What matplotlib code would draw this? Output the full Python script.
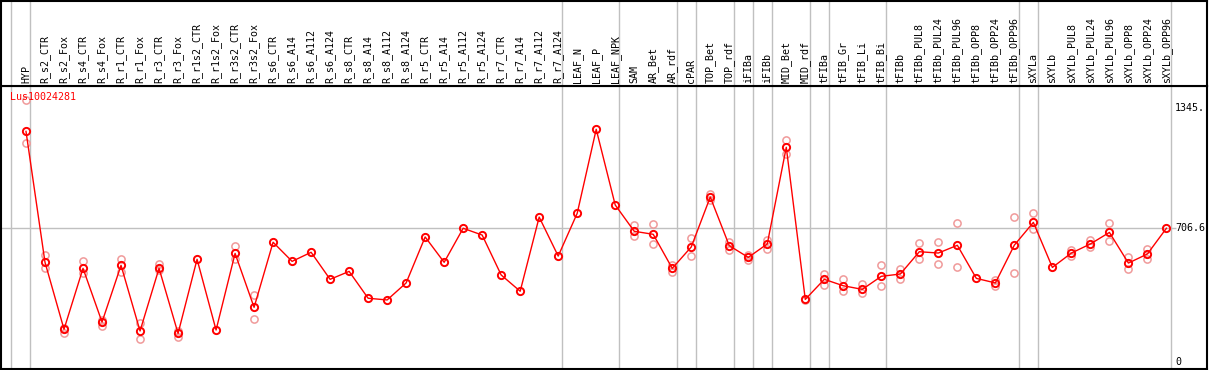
import matplotlib
matplotlib.use('Agg')
import matplotlib.pyplot as plt
import numpy as np

labels = ['HYP', 'R_s2_CTR', 'R_s2_Fox', 'R_s4_CTR', 'R_s4_Fox', 'R_r1_CTR', 'R_r1_Fox',
          'R_r3_CTR', 'R_r3_Fox', 'R_r1s2_CTR', 'R_r1s2_Fox', 'R_r3s2_CTR', 'R_r3s2_Fox',
          'R_s6_CTR', 'R_s6_A14', 'R_s6_A112', 'R_s6_A124', 'R_s8_CTR', 'R_s8_A14',
          'R_s8_A112', 'R_s8_A124', 'R_r5_CTR', 'R_r5_A14', 'R_r5_A112', 'R_r5_A124',
          'R_r7_CTR', 'R_r7_A14', 'R_r7_A112', 'R_r7_A124', 'LEAF_N', 'LEAF_P', 'LEAF_NPK',
          'SAM', 'AR_Bet', 'AR_rdf', 'cPAR', 'TOP_Bet', 'TOP_rdf', 'iFIBa', 'iFIBb',
          'MID_Bet', 'MID_rdf', 'tFIBa', 'tFIB_Gr', 'tFIB_Li', 'tFIB_Bi', 'tFIBb',
          'tFIBb_PUL8', 'tFIBb_PUL24', 'tFIBb_PUL96', 'tFIBb_OPP8', 'tFIBb_OPP24',
          'tFIBb_OPP96', 'sXYLa', 'sXYLb', 'sXYLb_PUL8', 'sXYLb_PUL24', 'sXYLb_PUL96',
          'sXYLb_OPP8', 'sXYLb_OPP24', 'sXYLb_OPP96']

means = [1219, 527, 173, 495, 211, 511, 164, 495, 151, 543, 169, 574, 289,
         633, 532, 580, 437, 479, 337, 328, 418, 661, 527, 707, 671,
         460, 374, 766, 560, 786, 1230, 830,
         691, 675, 495, 608, 872, 615, 553, 624,
         1135, 331, 437, 403, 384, 453, 465,
         583, 576, 617, 442, 418, 618,
         738, 500, 576, 624, 685, 523, 571, 707]

# replicate points (index, value)
rep_idx = [0, 0, 1, 1, 2, 2, 3, 3, 4, 4, 5, 5, 6, 6, 7, 7, 8, 8, 11, 11, 12, 12,
           32, 32, 33, 33, 34, 34, 35, 35, 36, 36, 37, 37, 38, 38, 39, 39, 40, 40,
           41, 42, 42, 43, 43, 44, 44, 45, 45, 46, 46, 47, 47, 48, 48, 49, 49,
           51, 51, 52, 52, 53, 53, 55, 55, 56, 56, 57, 57, 58, 58, 59, 59]
rep_val = [1385, 1160, 564, 495, 178, 155, 532, 469, 222, 192, 544, 476, 208, 120,
           520, 486, 164, 132, 611, 544, 356, 226,
           724, 666, 728, 622, 514, 474, 655, 559, 886, 856, 636, 594, 567, 540,
           645, 596, 1171, 1098,
           326, 465, 407, 439, 375, 412, 366, 511, 400, 492, 437, 627, 543,
           633, 518, 733, 500, 433, 403, 766, 469, 786, 701, 590, 562, 643, 608,
           735, 638, 557, 493, 597, 543]

group_lines = [-1, 0, 28, 31, 34, 35, 37, 38, 39, 41, 42, 45, 52, 53, 60]
right_ticks = [1345, 706.6, 0]
right_text = ['1345.', '706.6', '0']

W, H = 1209, 370
fig = plt.figure(figsize=(W / 100, H / 100), dpi=100)
ax = fig.add_axes([1 / W, 1 / H, 1206 / W, 283 / H])
axl = fig.add_axes([1 / W, 284 / H, 1206 / W, 85.5 / H], sharex=ax)

xs = np.arange(len(labels))
x0 = (1 - 26) / 19.007
x1 = (1207 - 26) / 19.007
ax.set_xlim(x0, x1)
ax.set_ylim(-37, 1459)
axl.set_ylim(0, 86)

grid_c = '#c0c0c0'
for g in group_lines:
    ax.axvline(g + 0.225, color=grid_c, lw=1, zorder=0)
    axl.axvline(g + 0.225, color=grid_c, lw=1, zorder=0)
ax.hlines(706.6, x0, (1176 - 26) / 19.007, color=grid_c, lw=1, zorder=0)

ax.plot(rep_idx, rep_val, 'o', ms=5.2, mfc='none', mec='#f09a9a', mew=1.1, zorder=2)
ax.plot(xs, means, '-', color='red', lw=1, zorder=3)
ax.plot(xs, means, 'o', ms=5.2, mfc='none', mec='red', mew=1.4, zorder=4)

font = 'DejaVu Sans Mono'
for i, lab in enumerate(labels):
    axl.text(i, 3, lab, rotation=90, ha='center', va='bottom',
             fontsize=7.2, family=font)

ax.text((10 - 26) / 19.007, 1402, 'Lus10024281', color='red', fontsize=7.2,
        family=font, ha='left', va='center')
for v, t in zip(right_ticks, right_text):
    ax.text((1175 - 26) / 19.007, v, t, fontsize=7.2, family=font,
            ha='left', va='center')

for a in (ax, axl):
    a.set_xticks([])
    a.set_yticks([])
    for s in a.spines.values():
        s.set_linewidth(1.5)
        s.set_color('black')

fig.savefig('out.png', dpi=100)
